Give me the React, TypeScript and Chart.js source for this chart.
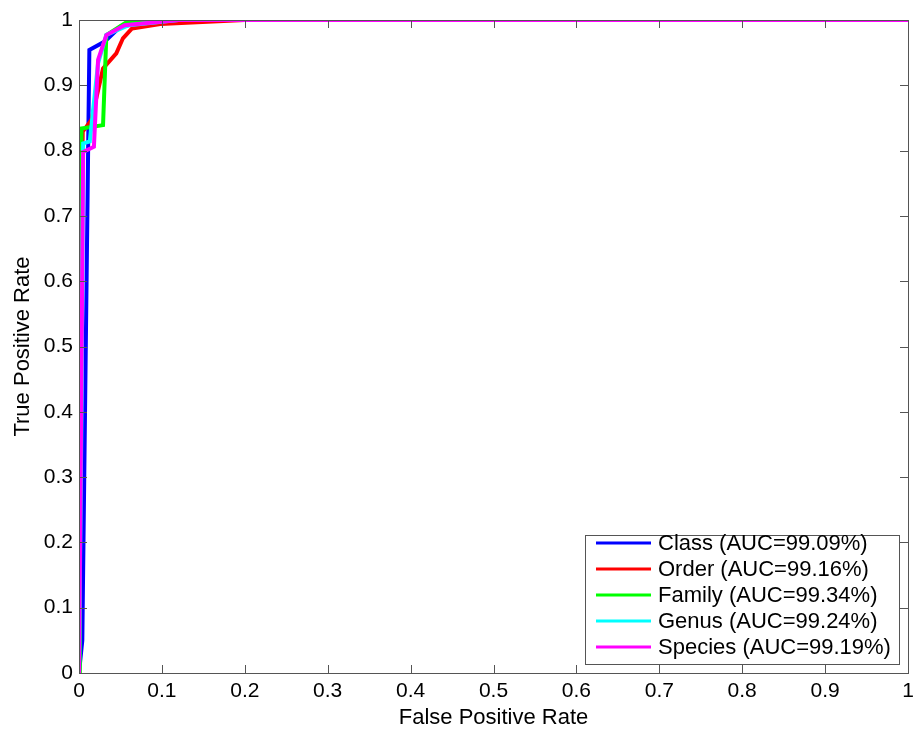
import React, { useEffect, useRef } from "react";
import { Chart, registerables } from "chart.js";

Chart.register(...registerables);

const seriesNames = [
  "Class (AUC=99.09%)",
  "Order (AUC=99.16%)",
  "Family (AUC=99.34%)",
  "Genus (AUC=99.24%)",
  "Species (AUC=99.19%)",
];
const seriesColors = ["#0000ff", "#ff0000", "#00ff00", "#00ffff", "#ff00ff"];

const classFpr = [0, 0.004, 0.011, 0.0125, 0.031, 0.05, 0.1, 0.3, 1];
const classTpr = [0, 0.05, 0.8, 0.954, 0.967, 0.99, 1.0, 1, 1];

const orderFpr = [0, 0.002, 0.0045, 0.015, 0.029, 0.045, 0.053, 0.064, 0.098, 0.2, 1];
const orderTpr = [0, 0.6, 0.829, 0.847, 0.926, 0.949, 0.972, 0.987, 0.994, 1, 1];

const familyFpr = [0, 0.001, 0.003, 0.029, 0.033, 0.059, 0.1, 1];
const familyTpr = [0, 0.5, 0.834, 0.839, 0.977, 0.998, 1, 1];

const genusFpr = [0, 0.003, 0.005, 0.013, 0.023, 0.033, 0.06, 0.12, 1];
const genusTpr = [0, 0.4, 0.811, 0.814, 0.934, 0.977, 0.992, 1, 1];

const speciesFpr = [0, 0.002, 0.005, 0.018, 0.023, 0.033, 0.055, 0.12, 1];
const speciesTpr = [0, 0.3, 0.798, 0.806, 0.939, 0.977, 0.992, 1, 1];

const allFpr = [classFpr, orderFpr, familyFpr, genusFpr, speciesFpr];
const allTpr = [classTpr, orderTpr, familyTpr, genusTpr, speciesTpr];

const xTitle = "False Positive Rate";
const yTitle = "True Positive Rate";
const FONT = "'Liberation Sans', Arial, sans-serif";

const boxPlugin = {
  id: "matlabBox",
  afterDatasetsDraw(chart: any) {
    const { ctx, chartArea, scales } = chart;
    const { left, right, top, bottom } = chartArea;
    ctx.save();
    ctx.strokeStyle = "#555555";
    ctx.lineWidth = 1;
    const tl = 8;
    ctx.beginPath();
    scales.x.ticks.forEach((t: any) => {
      const px = Math.round(scales.x.getPixelForValue(t.value)) + 0.5;
      ctx.moveTo(px, bottom);
      ctx.lineTo(px, bottom - tl);
      ctx.moveTo(px, top);
      ctx.lineTo(px, top + tl);
    });
    scales.y.ticks.forEach((t: any) => {
      const py = Math.round(scales.y.getPixelForValue(t.value)) + 0.5;
      ctx.moveTo(left, py);
      ctx.lineTo(left + tl, py);
      ctx.moveTo(right, py);
      ctx.lineTo(right - tl, py);
    });
    ctx.stroke();
    ctx.strokeRect(Math.round(left) + 0.5, Math.round(top) + 0.5, Math.round(right - left), Math.round(bottom - top));

    // legend
    ctx.font = `22px ${FONT}`;
    let maxW = 0;
    chart.data.datasets.forEach((d: any) => {
      maxW = Math.max(maxW, ctx.measureText(d.label).width);
    });
    const rowH = 26;
    const n = chart.data.datasets.length;
    const boxW = 73 + maxW + 8;
    const boxH = 8 + rowH * (n - 1) + 17;
    const bx = Math.round(right - 9 - boxW);
    const by = Math.round(bottom - 9 - boxH);
    ctx.fillStyle = "#ffffff";
    ctx.fillRect(bx, by, boxW, boxH);
    ctx.strokeRect(bx + 0.5, by + 0.5, Math.round(boxW), Math.round(boxH));
    chart.data.datasets.forEach((d: any, i: number) => {
      const cy = by + 8 + rowH * i;
      ctx.strokeStyle = d.borderColor;
      ctx.lineWidth = 3;
      ctx.beginPath();
      ctx.moveTo(bx + 11, cy);
      ctx.lineTo(bx + 66, cy);
      ctx.stroke();
      ctx.fillStyle = "#000000";
      ctx.textBaseline = "middle";
      ctx.textAlign = "left";
      ctx.fillText(d.label, bx + 73, cy + 1);
    });
    ctx.restore();
  },
};

export default function App() {
  const ref = useRef<HTMLCanvasElement | null>(null);
  useEffect(() => {
    if (!ref.current) return;
    const n = seriesNames.length;
    const datasets = seriesNames.map((name, i) => ({
      label: name,
      data: allFpr[i].map((x, j) => ({ x, y: allTpr[i][j] })),
      borderColor: seriesColors[i],
      backgroundColor: seriesColors[i],
      borderWidth: 4,
      pointRadius: 0,
      showLine: true,
      tension: 0,
      fill: false,
      order: n - i,
    }));
    const fmt = (v: any) => parseFloat(Number(v).toFixed(1)).toString();
    const chart = new Chart(ref.current, {
      type: "scatter",
      data: { datasets },
      plugins: [boxPlugin],
      options: {
        animation: false,
        responsive: false,
        devicePixelRatio: 1,
        layout: { padding: { left: 0, top: 20, right: 9, bottom: 0 } },
        plugins: { legend: { display: false }, tooltip: { enabled: false } },
        scales: {
          x: {
            type: "linear",
            min: 0,
            max: 1,
            afterFit: (s: any) => {
              s.height = 58;
              s.paddingLeft = 0;
              s.paddingRight = 0;
            },
            grid: { display: false, drawTicks: false },
            border: { display: false },
            ticks: { stepSize: 0.1, padding: 6, color: "#000", font: { family: FONT, size: 21 }, callback: fmt, maxRotation: 0, autoSkip: false },
            title: { display: true, text: xTitle, color: "#000", font: { family: FONT, size: 22, lineHeight: 1.2 }, padding: { top: 0, bottom: 0 } },
          },
          y: {
            type: "linear",
            min: 0,
            max: 1,
            afterFit: (s: any) => {
              s.width = 79;
              s.paddingTop = 0;
              s.paddingBottom = 0;
            },
            grid: { display: false, drawTicks: false },
            border: { display: false },
            ticks: { stepSize: 0.1, padding: 6, color: "#000", font: { family: FONT, size: 21 }, callback: fmt, autoSkip: false },
            title: { display: true, text: yTitle, color: "#000", font: { family: FONT, size: 22, lineHeight: 1.2 }, padding: { top: 10, bottom: 0 } },
          },
        },
      },
    } as any);
    return () => chart.destroy();
  }, []);
  return (
    <div style={{ position: "absolute", left: 0, top: 0, width: 917, height: 731, background: "#fff" }}>
      <canvas ref={ref} width={917} height={731} />
    </div>
  );
}
